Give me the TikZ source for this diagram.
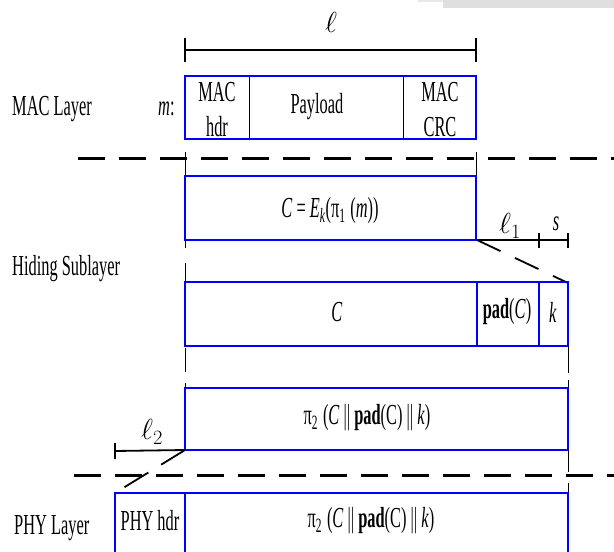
\RequirePackage{fix-cm}
\documentclass[tikz,border=0pt]{standalone}
\usepackage{fontspec}
\setmainfont[FakeStretch=0.565]{Liberation Serif}
\begin{document}
\begin{tikzpicture}[x=1pt,y=-1pt,
  field/.style={draw=blue,line width=1.6pt},
  sep/.style={color=blue,line width=1.2pt},
  layer/.style={dash pattern=on 27pt off 14pt,line width=3pt},
  dim/.style={line width=1.8pt},
  guide/.style={line width=1pt},
  txt/.style={font=\fontsize{29}{35}\selectfont,inner sep=0pt,align=center}]
\useasboundingbox (0,0) rectangle (614,552);
\fill[gray!18] (418,0) rectangle (443,2);
\fill[gray!25] (443,0) rectangle (614,8);
%layer names
\node[txt,anchor=base west] (maclay) at (12,115) {MAC Layer};
\node[txt,anchor=base west] (hidlay) at (12,275) {Hiding Sublayer};
\node[txt,anchor=base west] (phylay) at (14,534) {PHY Layer};
%MAC frame m, length l
\draw[dim] (185,38) -- (185,62) (185,50) -- (476,50) (476,38) -- (476,62);
\node[txt] (len) at (331,22) {$\ell$};
\node[txt,anchor=base west] (mname) at (158,115) {\textit{m}:};
\draw[field] (185,76) rectangle (476,139);
\draw[guide] (249,76) -- (249,139) (403,76) -- (403,139);
\node[txt] (machdr) at (217,110) {MAC\\hdr};
\node[txt] (payload) at (317,107) {Payload};
\node[txt] (maccrc) at (440,110) {MAC\\CRC};
%layer border
\draw[layer] (78,158) -- (614,158);
\draw[guide] (185,152) -- (185,176) (476,152) -- (476,176);
%ciphertext C
\draw[field] (185,176) rectangle (476,240);
\node[txt] (cipher) at (330,211) {\textit{C} = \textit{E}\textsubscript{\textit{k}}(π\textsubscript{1}\,(\textit{m}))};
\draw[dim] (477,240) -- (568,240) (539,233) -- (539,248) (568,233) -- (568,248);
\node[txt] (len1) at (510,226) {$\ell_1$};
\node[txt] (slen) at (556,224) {\textit{s}};
\draw[dim,dash pattern=on 26pt off 16pt] (477,240) -- (568,283);
\draw[guide] (185,240) -- (185,248) (185,263) -- (185,282);
%C | pad(C) | k
\draw[field] (185,282) rectangle (568,346);
\draw[sep] (477,282) -- (477,346) (539,282) -- (539,346);
\node[txt] (cbody) at (337,312) {\textit{C}};
\node[txt] (cpad) at (507,312) {\textbf{pad}(\textit{C})};
\node[txt] (ckey) at (553,312) {\textit{k}};
\draw[guide] (185,348) -- (185,372) (185,383) -- (185,388);
\draw[guide] (568,346) -- (568,373) (568,380) -- (568,388);
%permuted frame
\draw[field] (185,388) rectangle (568,450);
\node[txt] (perm) at (367,418) {π\textsubscript{2}\,(\textit{C} || \textbf{pad}(C) || \textit{k})};
\draw[guide] (568,450) -- (568,472) (568,483) -- (568,493);
\draw[dim] (115,443) -- (115,459) (115,451) -- (185,450);
\node[txt] (len2) at (152,432) {$\ell_2$};
\draw[dim,dash pattern=on 28pt off 15pt] (185,450) -- (115,493);
%layer border
\draw[layer] (74,475) -- (614,475);
%PHY frame
\draw[field] (115,493) rectangle (568,570);
\draw[sep] (185,493) -- (185,570);
\node[txt] (phyhdr) at (150,521) {PHY hdr};
\node[txt] (phybody) at (371,521) {π\textsubscript{2}\,(\textit{C} || \textbf{pad}(C) || \textit{k})};
\end{tikzpicture}
\end{document}
